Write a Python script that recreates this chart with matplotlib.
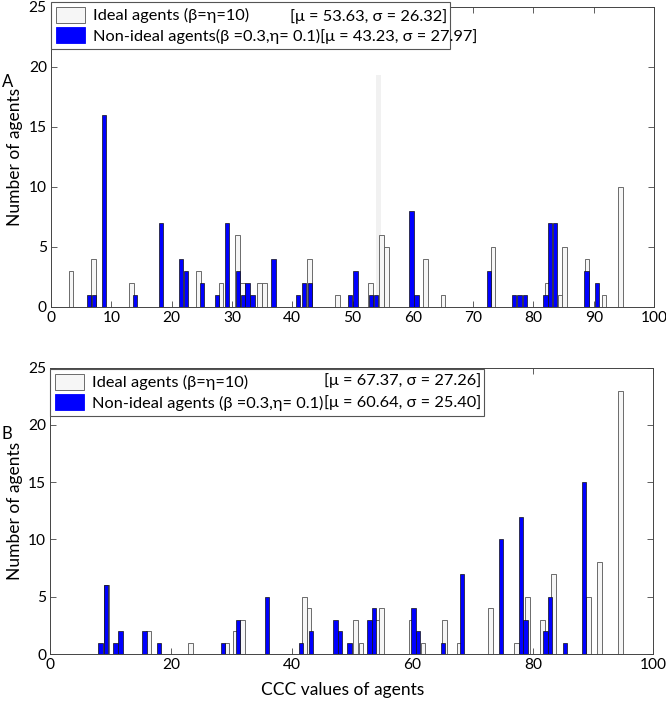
import numpy as np
import matplotlib.pyplot as plt
from matplotlib.patches import Patch

plt.rcParams['font.family'] = ['Lato', 'DejaVu Sans']
plt.rcParams['font.size'] = 11.5

# panel A
a_ideal_x = [3.3, 7.0, 13.4, 24.5, 28.2, 30.9, 31.7, 34.6, 35.4, 42.9, 47.5, 53.0,
             54.8, 55.7, 62.1, 65.0, 73.3, 82.4, 84.4, 85.2, 88.9, 91.7, 94.5]
a_ideal_n = [3, 4, 2, 3, 2, 6, 2, 2, 2, 4, 1, 2,
             6, 5, 4, 1, 5, 2, 1, 5, 4, 1, 10]
a_non_x = [6.25, 7.1, 8.8, 13.9, 18.2, 21.6, 22.4, 25.0, 27.5, 29.2, 31.0, 31.8,
           32.6, 33.4, 36.9, 41.0, 42.0, 42.9, 49.6, 50.5, 53.1, 53.9, 59.8, 60.6,
           72.6, 76.8, 77.7, 78.6, 82.0, 82.8, 83.6, 88.8, 90.5]
a_non_n = [1, 1, 16, 1, 7, 4, 3, 2, 1, 7, 3, 1,
           2, 1, 4, 1, 2, 2, 1, 3, 1, 1, 8, 1,
           3, 1, 1, 1, 1, 7, 7, 3, 2]
# faint grey stripe seen in panel A
a_stripe_x = [54.3]
a_stripe_h = [19.3]

# panel B
b_ideal_x = [9.3, 16.3, 23.2, 29.3, 30.6, 31.8, 42.1, 42.9, 50.6, 51.5, 54.2, 54.9,
             59.9, 61.8, 65.3, 67.8, 73.0, 77.3, 79.1, 81.6, 83.4, 89.3, 91.1, 94.6]
b_ideal_n = [6, 2, 1, 1, 2, 3, 5, 4, 3, 1, 3, 4,
             3, 1, 3, 1, 4, 1, 5, 3, 7, 5, 8, 23]
b_non_x = [8.3, 9.2, 10.8, 11.6, 15.6, 18.0, 28.6, 31.1, 35.9, 41.6, 43.2, 47.3,
           48.0, 49.6, 52.9, 53.7, 60.2, 61.0, 65.1, 68.3, 74.7, 78.0, 78.8, 82.1,
           82.9, 85.3, 88.5]
b_non_n = [1, 6, 1, 2, 2, 1, 1, 3, 5, 1, 2, 3,
           2, 1, 3, 4, 4, 2, 1, 7, 10, 12, 3, 2,
           5, 1, 15]

a_labels = ["Ideal agents (\u03b2=\u03b7=10)",
            "Non-ideal agents(\u03b2 =0.3,\u03b7= 0.1)[\u03bc = 43.23, \u03c3 = 27.97]"]
a_stats = ["[\u03bc = 53.63, \u03c3 = 26.32]"]
b_labels = ["Ideal agents (\u03b2=\u03b7=10)",
            "Non-ideal agents (\u03b2 =0.3,\u03b7= 0.1)"]
b_stats = ["[\u03bc = 67.37, \u03c3 = 27.26]", "[\u03bc = 60.64, \u03c3 = 25.40]"]

white = '#f6f6f6'
blue = '#0000ff'

fig = plt.figure(figsize=(6.66, 7.03), dpi=100)
axA = fig.add_axes([0.0766, 0.5637, 0.9054, 0.4268])
axB = fig.add_axes([0.0757, 0.0697, 0.9053, 0.4073])


def style(ax, xt):
    ax.set_xlim(0, 100)
    ax.set_ylim(0, 25)
    ax.set_xticks(xt)
    ax.set_yticks([0, 5, 10, 15, 20, 25])
    ax.tick_params(direction='in', length=4, top=True, right=True,
                   color='#444444', width=0.6, pad=3, labelsize=11.2)
    for s in ax.spines.values():
        s.set_color('#444444')
        s.set_linewidth(0.7)


def add_legend(ax, labels, box_w, box_b):
    handles = [Patch(facecolor=white, edgecolor='#555555', linewidth=0.6),
               Patch(facecolor=blue, edgecolor='#0000ff', linewidth=0.6)]
    leg = ax.legend(handles, labels, loc='lower left',
                    bbox_to_anchor=(0.0, box_b, box_w, 1.005 - box_b), mode='expand',
                    borderaxespad=0, fancybox=False, framealpha=1, edgecolor='#555555',
                    handlelength=1.75, handleheight=1.1, handletextpad=0.5,
                    labelspacing=0.25, borderpad=0.3, fontsize=11.8)
    leg.get_frame().set_linewidth(0.8)
    leg.set_zorder(5)
    return leg


# panel A
style(axA, np.arange(0, 101, 10))
axA.bar(a_stripe_x, a_stripe_h, width=0.7, color='#f1f1f1', zorder=0)
axA.bar(a_ideal_x, a_ideal_n, width=0.8, color=white, edgecolor='#555555',
        linewidth=0.6, zorder=2)
axA.bar(a_non_x, a_non_n, width=0.72, color=blue, edgecolor='#111111',
        linewidth=0.5, zorder=3)
axA.set_ylabel("Number of agents", fontsize=12.5)
add_legend(axA, a_labels, 0.662, 0.86)
axA.text(0.657, 0.968, a_stats[0], transform=axA.transAxes, ha='right', va='center',
         fontsize=11.8, zorder=10)

# panel B
style(axB, np.arange(0, 101, 20))
axB.bar(b_ideal_x, b_ideal_n, width=0.8, color=white, edgecolor='#555555',
        linewidth=0.6, zorder=2)
axB.bar(b_non_x, b_non_n, width=0.72, color=blue, edgecolor='#111111',
        linewidth=0.5, zorder=3)
axB.set_ylabel("Number of agents", fontsize=12.5)
axB.set_xlabel("CCC values of agents", fontsize=12.5)
axB.xaxis.set_label_coords(0.485, -0.098)
add_legend(axB, b_labels, 0.719, 0.832)
axB.text(0.714, 0.955, b_stats[0], transform=axB.transAxes, ha='right', va='center',
         fontsize=11.8, zorder=10)
axB.text(0.714, 0.877, b_stats[1], transform=axB.transAxes, ha='right', va='center',
         fontsize=11.8, zorder=10)

fig.text(0.003, 0.876, "A", fontsize=12)
fig.text(0.003, 0.376, "B", fontsize=12)

fig.savefig("out.png", dpi=100)
